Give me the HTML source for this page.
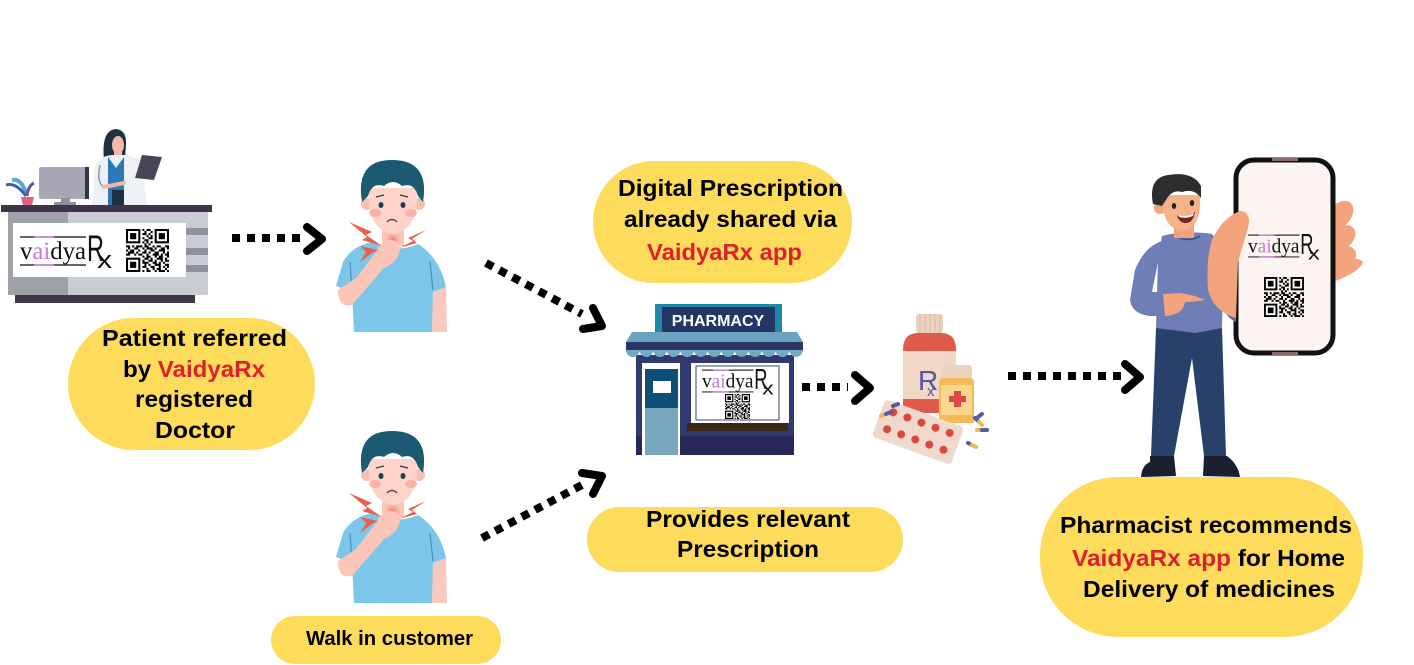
<!DOCTYPE html>
<html><head><meta charset="utf-8"><style>
html,body{margin:0;padding:0;background:#fff;}
svg{display:block;}
.t{font-family:"Liberation Sans",Arial,sans-serif;font-weight:bold;fill:#000;}
.r{fill:#e01f2d;}
</style></head><body>
<svg width="1414" height="665" viewBox="0 0 1414 665" xmlns="http://www.w3.org/2000/svg">
<defs>
<symbol id="qr" viewBox="0 0 21 21">
<rect x="0" y="0" width="7" height="7" fill="#000"/><rect x="1" y="1" width="5" height="5" fill="#fff"/><rect x="2" y="2" width="3" height="3" fill="#000"/>
<rect x="14" y="0" width="7" height="7" fill="#000"/><rect x="15" y="1" width="5" height="5" fill="#fff"/><rect x="16" y="2" width="3" height="3" fill="#000"/>
<rect x="0" y="14" width="7" height="7" fill="#000"/><rect x="1" y="15" width="5" height="5" fill="#fff"/><rect x="2" y="16" width="3" height="3" fill="#000"/>
<path stroke="#000" stroke-width="1" fill="none" d="M8 .5h1M10 .5h2M9 1.5h1M12 1.5h1M8 2.5h2M11 2.5h1M10 3.5h1M12 3.5h1M8 4.5h1M11 4.5h2M9 5.5h2M8 6.5h1M10 6.5h1M12 6.5h1M9 7.5h1M11 7.5h1M0 8.5h2M3 8.5h1M5 8.5h3M9 8.5h2M13 8.5h1M15 8.5h2M19 8.5h2M1 9.5h1M4 9.5h2M8 9.5h1M10 9.5h3M14 9.5h1M17 9.5h2M20 9.5h1M0 10.5h1M2 10.5h2M6 10.5h1M9 10.5h1M12 10.5h2M16 10.5h3M1 11.5h3M5 11.5h1M8 11.5h2M11 11.5h1M14 11.5h2M18 11.5h1M20 11.5h1M0 12.5h2M4 12.5h1M6 12.5h2M10 12.5h1M13 12.5h3M17 12.5h1M19 12.5h2M8 13.5h1M10 13.5h2M14 13.5h1M16 13.5h2M20 13.5h1M9 14.5h2M12 14.5h1M15 14.5h3M19 14.5h1M8 15.5h1M11 15.5h2M14 15.5h1M17 15.5h1M19 15.5h2M8 16.5h3M13 16.5h2M16 16.5h1M18 16.5h1M9 17.5h1M11 17.5h1M14 17.5h3M19 17.5h2M8 18.5h2M12 18.5h2M16 18.5h1M18 18.5h1M20 18.5h1M10 19.5h1M13 19.5h1M15 19.5h2M19 19.5h1M8 20.5h1M10 20.5h2M14 20.5h1M16 20.5h3M20 20.5h1"/>
</symbol>
<radialGradient id="glow"><stop offset="0" stop-color="#f06a6a" stop-opacity=".9"/><stop offset="1" stop-color="#fbc5b8" stop-opacity="0"/></radialGradient>
</defs>

<!-- ===== Bubbles ===== -->
<rect x="68" y="318" width="247" height="132" rx="66" fill="#fddc5c"/>
<rect x="593" y="161" width="259" height="122" rx="61" fill="#fddc5c"/>
<rect x="587" y="507" width="316" height="65" rx="32.5" fill="#fddc5c"/>
<rect x="271" y="616" width="230" height="48" rx="24" fill="#fddc5c"/>
<rect x="1040" y="477" width="323" height="160" rx="78" fill="#fddc5c"/>

<text class="t" font-size="23" x="102" y="346" textLength="185" lengthAdjust="spacingAndGlyphs">Patient referred</text>
<text class="t" font-size="23" x="123" y="377" textLength="142" lengthAdjust="spacingAndGlyphs">by <tspan class="r">VaidyaRx</tspan></text>
<text class="t" font-size="23" x="135" y="407" textLength="118" lengthAdjust="spacingAndGlyphs">registered</text>
<text class="t" font-size="23" x="155" y="438" textLength="80" lengthAdjust="spacingAndGlyphs">Doctor</text>

<text class="t" font-size="23" x="618" y="196" textLength="225" lengthAdjust="spacingAndGlyphs">Digital Prescription</text>
<text class="t" font-size="23" x="624" y="227" textLength="213" lengthAdjust="spacingAndGlyphs">already shared via</text>
<text class="t r" font-size="23" x="647" y="260" textLength="155" lengthAdjust="spacingAndGlyphs">VaidyaRx app</text>

<text class="t" font-size="23" x="646" y="527" textLength="204" lengthAdjust="spacingAndGlyphs">Provides relevant</text>
<text class="t" font-size="23" x="677" y="557" textLength="142" lengthAdjust="spacingAndGlyphs">Prescription</text>

<text class="t" font-size="20" x="306" y="645" textLength="167" lengthAdjust="spacingAndGlyphs">Walk in customer</text>

<text class="t" font-size="23" x="1060" y="533" textLength="292" lengthAdjust="spacingAndGlyphs">Pharmacist recommends</text>
<text class="t" font-size="23" x="1072" y="566" textLength="273" lengthAdjust="spacingAndGlyphs"><tspan class="r">VaidyaRx app</tspan> for Home</text>
<text class="t" font-size="23" x="1083" y="597" textLength="252" lengthAdjust="spacingAndGlyphs">Delivery of medicines</text>

<!-- ===== Arrows ===== -->
<g stroke="#000" fill="none">
<line x1="232" y1="238" x2="303" y2="238" stroke-width="8" stroke-dasharray="8 7"/>
<polyline points="307,227 322,239 307,251" stroke-width="8" stroke-linecap="round" stroke-linejoin="round"/>

<line x1="486" y1="263" x2="582" y2="314" stroke-width="8" stroke-dasharray="8 7"/>
<polyline points="593,308 602,326 583,329" stroke-width="8" stroke-linecap="round" stroke-linejoin="round"/>

<line x1="482" y1="538" x2="582" y2="485" stroke-width="8" stroke-dasharray="8 7"/>
<polyline points="582,473 602,476 593,494" stroke-width="8" stroke-linecap="round" stroke-linejoin="round"/>

<line x1="802" y1="387" x2="848" y2="387" stroke-width="8" stroke-dasharray="8 7"/>
<polyline points="855,375 870,388 855,401" stroke-width="8" stroke-linecap="round" stroke-linejoin="round"/>

<line x1="1008" y1="376" x2="1122" y2="376" stroke-width="8" stroke-dasharray="8 7"/>
<polyline points="1125,364 1140,377 1125,390" stroke-width="8" stroke-linecap="round" stroke-linejoin="round"/>
</g>

<!-- ===== Doctor desk ===== -->
<g>
<path d="M12 180 Q22 178 27 196" stroke="#5aa6d6" stroke-width="4" fill="none"/>
<path d="M6 185 Q16 182 26 196" stroke="#3b5fb0" stroke-width="3" fill="none"/>
<path d="M34 183 Q28 186 27 196" stroke="#6a4fa8" stroke-width="3" fill="none"/>
<path d="M21 197 h13 l-2 8 h-9z" fill="#e0607e"/>
<rect x="39" y="167" width="50" height="32" rx="2" fill="#a8a7b6"/>
<rect x="85" y="167" width="4" height="32" fill="#2f3848"/>
<rect x="61" y="198" width="9" height="6" fill="#8f8e9e"/>
<rect x="54" y="202" width="22" height="3" fill="#8f8e9e"/>
<path d="M104 160 Q101 130 116 129 Q127 130 126 145 L125 158 Z" fill="#1d3140"/>
<ellipse cx="118" cy="145" rx="6" ry="9" fill="#f3b9a6"/>
<rect x="114" y="150" width="8" height="8" fill="#f3b9a6"/>
<path d="M92 205 L95 165 Q100 156 112 155 L126 155 Q138 158 142 170 L147 205 Z" fill="#edf1f6"/>
<path d="M108 157 L116 168 L124 157 L124 205 L108 205 Z" fill="#2e78b5"/>
<path d="M112 190 h12 v15 h-12z" fill="#1e2f40"/>
<path d="M100 165 Q96 185 106 188" stroke="#8c97a3" stroke-width="1.5" fill="none"/>
<path d="M104 187 L124 183" stroke="#f3b9a6" stroke-width="4" stroke-linecap="round"/>
<path d="M128 163 L145 158" stroke="#edf1f6" stroke-width="6" stroke-linecap="round"/>
<path d="M142 155 L162 157 L154 180 L135 178 Z" fill="#4a4556"/>
<rect x="1" y="205" width="211" height="7" fill="#3f3548"/>
<rect x="8" y="212" width="60" height="83" fill="#9ea2a7"/>
<rect x="68" y="212" width="140" height="83" fill="#c9cdd1"/>
<rect x="15" y="295" width="180" height="8" fill="#3f3548"/>
<rect x="186" y="228" width="22" height="7" fill="#8c939a"/>
<rect x="186" y="248" width="22" height="7" fill="#8c939a"/>
<rect x="186" y="265" width="22" height="7" fill="#8c939a"/>
<rect x="13" y="223" width="173" height="54" fill="#fff"/>
<g transform="translate(20,233)">
<line x1="0" y1="4" x2="66" y2="4" stroke="#333" stroke-width="1.5"/>
<line x1="14" y1="4" x2="34" y2="4" stroke="#c98bd8" stroke-width="2"/>
<text x="0" y="26" font-family="Liberation Serif,serif" font-size="25" fill="#111" textLength="66" lengthAdjust="spacingAndGlyphs">v<tspan fill="#c27bd6">ai</tspan>dya</text>
<line x1="0" y1="32" x2="66" y2="32" stroke="#333" stroke-width="1.5"/>
<line x1="14" y1="32" x2="34" y2="32" stroke="#c98bd8" stroke-width="2"/>
<text x="67" y="28" font-family="Liberation Sans,sans-serif" font-size="37" fill="#111" textLength="17" lengthAdjust="spacingAndGlyphs">R</text>
<text x="77" y="35" font-family="Liberation Sans,sans-serif" font-size="24" fill="#111" textLength="15" lengthAdjust="spacingAndGlyphs">x</text>
</g>
<use href="#qr" x="126" y="229" width="43" height="43"/>
</g>

<!-- ===== Patient (twice) ===== -->
<g id="pat">
<path d="M372 242 Q352 246 343 262 L336 286 L352 292 L354 332 L432 332 L433 292 L446 287 Q440 258 418 244 Q395 254 372 242 Z" fill="#7cc6ea"/>
<path d="M433 292 L446 287 L447 332 L432 332 Z" fill="#f9c8be"/>
<path d="M350 262 L352 292" stroke="#4a8fc0" stroke-width="1.2"/>
<path d="M430 262 L433 290" stroke="#4a8fc0" stroke-width="1.2"/>
<rect x="382" y="225" width="22" height="21" fill="#fbc5b8"/>
<circle cx="393" cy="240" r="10" fill="url(#glow)"/>
<circle cx="367" cy="204" r="6" fill="#f7c0b1"/>
<circle cx="419" cy="204" r="6" fill="#f7c0b1"/>
<path d="M369 188 Q366 230 393 234 Q420 230 417 188 Z" fill="#fdd3ca"/>
<path d="M362 202 Q355 160 392 160 Q430 160 423 202 L418 196 Q414 182 402 186 Q393 178 384 186 Q372 182 368 196 Z" fill="#1b5a70"/>
<ellipse cx="375" cy="213" rx="6" ry="4" fill="#f5a3a0" opacity=".7"/>
<ellipse cx="411" cy="213" rx="6" ry="4" fill="#f5a3a0" opacity=".7"/>
<ellipse cx="381" cy="205" rx="2.5" ry="3" fill="#1d3f4f"/>
<ellipse cx="403" cy="205" rx="2.5" ry="3" fill="#1d3f4f"/>
<path d="M376 197 L384 195 M400 195 L408 197" stroke="#1d3f4f" stroke-width="1.2"/>
<path d="M387 222 Q392 217 397 222" stroke="#7a3535" stroke-width="1.5" fill="none"/>
<path d="M338 290 Q338 308 352 305 L384 268 Q398 262 400 250 Q400 240 390 240 Q380 242 376 252 L356 278 Z" fill="#fbc5b8"/>
<polygon points="349,222 372,232 366,235 382,246 362,240 367,237" fill="#e8614e"/>
<polygon points="426,230 408,238 413,241 399,248 417,243 412,239" fill="#e8614e"/>
<polygon points="360,246 378,250 372,253 360,262 366,252" fill="#e8614e"/>
</g>
<use href="#pat" transform="translate(0,271)"/>

<!-- ===== Pharmacy ===== -->
<g>
<rect x="655" y="304" width="127" height="28" fill="#1c8aa8"/>
<rect x="662" y="307" width="113" height="25" fill="#243566"/>
<text x="718" y="326" text-anchor="middle" font-family="Liberation Sans,sans-serif" font-weight="bold" font-size="16" fill="#fff">PHARMACY</text>
<rect x="636" y="355" width="158" height="100" fill="#2f3b70"/>
<rect x="636" y="436" width="158" height="19" fill="#28275a"/>
<path d="M626 342 L632 332 L797 332 L803 342 Z" fill="#6aa3be"/>
<rect x="626" y="342" width="177" height="9" fill="#2a3566"/>
<path d="M626 350 a6.8 7 0 0 0 13.6 0 a6.8 7 0 0 0 13.6 0 a6.8 7 0 0 0 13.6 0 a6.8 7 0 0 0 13.6 0 a6.8 7 0 0 0 13.6 0 a6.8 7 0 0 0 13.6 0 a6.8 7 0 0 0 13.6 0 a6.8 7 0 0 0 13.6 0 a6.8 7 0 0 0 13.6 0 a6.8 7 0 0 0 13.6 0 a6.8 7 0 0 0 13.6 0 a6.8 7 0 0 0 13.6 0 a6.8 7 0 0 0 13.6 0 Z" fill="#72a9c4"/>
<rect x="642" y="363" width="38" height="92" fill="#fff"/>
<rect x="645" y="369" width="33" height="39" fill="#0e4f7a"/>
<rect x="645" y="408" width="33" height="47" fill="#78a8c0"/>
<rect x="653" y="381" width="18" height="12" fill="#fff"/>
<rect x="691" y="363" width="98" height="60" fill="#fff"/>
<rect x="696" y="366" width="83" height="54" fill="#fff" stroke="#2f4a7a" stroke-width="1"/>
<g transform="translate(702,367) scale(0.78)">
<line x1="0" y1="4" x2="66" y2="4" stroke="#333" stroke-width="1.5"/>
<line x1="14" y1="4" x2="34" y2="4" stroke="#c98bd8" stroke-width="2"/>
<text x="0" y="26" font-family="Liberation Serif,serif" font-size="25" fill="#111" textLength="66" lengthAdjust="spacingAndGlyphs">v<tspan fill="#c27bd6">ai</tspan>dya</text>
<line x1="0" y1="32" x2="66" y2="32" stroke="#333" stroke-width="1.5"/>
<line x1="14" y1="32" x2="34" y2="32" stroke="#c98bd8" stroke-width="2"/>
<text x="67" y="28" font-family="Liberation Sans,sans-serif" font-size="37" fill="#111" textLength="17" lengthAdjust="spacingAndGlyphs">R</text>
<text x="77" y="35" font-family="Liberation Sans,sans-serif" font-size="24" fill="#111" textLength="15" lengthAdjust="spacingAndGlyphs">x</text>
</g>
<use href="#qr" x="725" y="394" width="25" height="25"/>
<rect x="687" y="423" width="101" height="8" fill="#3c2618"/>
</g>

<!-- ===== Medicines ===== -->
<g>
<rect x="916" y="314" width="27" height="19" rx="3" fill="#ecd2c0"/>
<path d="M920 314 v19 M925 314 v19 M930 314 v19 M935 314 v19 M940 314 v19" stroke="#d6b9a6" stroke-width="1"/>
<path d="M903 350 Q903 333 918 333 L941 333 Q956 333 956 350 L956 413 L903 413 Z" fill="#e05a4a"/>
<rect x="903" y="351" width="53" height="48" fill="#f1d7c6"/>
<text x="918" y="390" font-family="Liberation Sans,sans-serif" font-size="28" fill="#4f55a8">R</text>
<text x="927" y="396" font-family="Liberation Sans,sans-serif" font-size="15" fill="#4f55a8">x</text>
<rect x="942" y="365" width="30" height="14" rx="3" fill="#ecd2c0"/>
<path d="M939 383 Q939 378 944 378 L970 378 Q974 378 974 383 L974 423 L939 423 Z" fill="#f5b85a"/>
<rect x="941" y="385" width="31" height="30" fill="#fbd78c"/>
<path d="M954 391 h7 v5 h5 v6 h-5 v5 h-7 v-5 h-5 v-6 h5z" fill="#e04848"/>
<g transform="rotate(20 918 432)">
<rect x="876" y="412" width="84" height="40" rx="4" fill="#efd8cc"/>
<g fill="#d94a3e">
<circle cx="888" cy="422" r="4"/><circle cx="903" cy="422" r="4"/><circle cx="918" cy="422" r="4"/><circle cx="933" cy="422" r="4"/><circle cx="948" cy="422" r="4"/>
<circle cx="888" cy="440" r="4"/><circle cx="903" cy="440" r="4"/><circle cx="918" cy="440" r="4"/><circle cx="933" cy="440" r="4"/><circle cx="948" cy="440" r="4"/>
</g></g>
<g stroke-width="4" stroke-linecap="round">
<path d="M881 416 l5 -2" stroke="#f2b64a"/><path d="M886 414 l5 -2" stroke="#5a5aa8"/>
<path d="M893 406 l5 -2" stroke="#5a5aa8"/>
<path d="M975 418 l4 4" stroke="#5a5aa8"/><path d="M979 422 l3 3" stroke="#f2b64a"/>
<path d="M977 430 l5 0" stroke="#f2b64a"/><path d="M982 430 l5 0" stroke="#5a5aa8"/>
<path d="M968 443 l4 2" stroke="#5a5aa8"/><path d="M972 445 l4 2" stroke="#f2b64a"/>
<path d="M978 417 l4 -3" stroke="#5a5aa8"/>
</g>
</g>

<!-- ===== Man with phone ===== -->
<g>
<path d="M1156 328 L1222 328 L1226 456 L1204 456 L1192 358 L1174 456 L1151 456 Z" fill="#27416b"/>
<path d="M1150 456 L1174 456 L1176 476 L1141 477 Q1142 465 1150 462 Z" fill="#1b2030"/>
<path d="M1204 456 L1227 456 Q1238 464 1240 477 L1203 476 Z" fill="#1b2030"/>
<path d="M1162 236 Q1185 230 1212 234 L1224 250 L1222 328 L1195 333 L1156 328 L1158 260 Z" fill="#6f7eb6"/>
<path d="M1176 236 Q1188 243 1200 236" stroke="#3d4a80" stroke-width="1.5" fill="none"/>
<path d="M1165 240 Q1145 245 1135 270 L1130 300 Q1132 314 1150 316 L1165 316 L1165 292 L1152 292 L1158 262 Z" fill="#6f7eb6"/>
<path d="M1163 294 L1180 293 Q1195 295 1205 300 Q1192 302 1185 302 Q1183 315 1165 316 Z" fill="#f4a47c"/>
<rect x="1174" y="222" width="20" height="16" fill="#f2a47c"/>
<circle cx="1160" cy="208" r="6" fill="#f2a47c"/>
<path d="M1162 195 Q1162 232 1185 230 Q1202 226 1200 195 Z" fill="#f6b38a"/>
<path d="M1153 204 Q1148 178 1168 175 Q1193 171 1201 186 L1201 198 Q1194 188 1182 192 Q1172 189 1166 200 L1162 206 Z" fill="#2d2d2d"/>
<ellipse cx="1174" cy="206" rx="2.2" ry="3" fill="#222"/>
<ellipse cx="1192" cy="203" rx="2.2" ry="3" fill="#222"/>
<path d="M1177 215 Q1186 219 1195 212 Q1193 224 1184 223 Q1178 221 1177 215 Z" fill="#7a2020"/>
<path d="M1178 215 Q1186 218 1194 213 L1193 216 Q1186 219 1179 217 Z" fill="#fff"/>
<g fill="#f4a47c">
<ellipse cx="1340" cy="215" rx="11" ry="16" transform="rotate(40 1340 215)"/>
<ellipse cx="1341" cy="238" rx="11" ry="16" transform="rotate(55 1341 238)"/>
<ellipse cx="1342" cy="258" rx="11" ry="15" transform="rotate(60 1342 258)"/>
<path d="M1330 262 Q1358 255 1363 262 Q1360 272 1333 282 Z"/>
</g>
<rect x="1236" y="160" width="97" height="193" rx="18" fill="#fbf4f1" stroke="#111" stroke-width="5"/>
<rect x="1272" y="158" width="26" height="3" fill="#8a6a6a"/>
<rect x="1272" y="352" width="26" height="3" fill="#8a6a6a"/>
<g transform="translate(1248,232) scale(0.78)">
<line x1="0" y1="4" x2="66" y2="4" stroke="#333" stroke-width="1.5"/>
<line x1="14" y1="4" x2="34" y2="4" stroke="#c98bd8" stroke-width="2"/>
<text x="0" y="26" font-family="Liberation Serif,serif" font-size="25" fill="#111" textLength="66" lengthAdjust="spacingAndGlyphs">v<tspan fill="#c27bd6">ai</tspan>dya</text>
<line x1="0" y1="32" x2="66" y2="32" stroke="#333" stroke-width="1.5"/>
<line x1="14" y1="32" x2="34" y2="32" stroke="#c98bd8" stroke-width="2"/>
<text x="67" y="28" font-family="Liberation Sans,sans-serif" font-size="37" fill="#111" textLength="17" lengthAdjust="spacingAndGlyphs">R</text>
<text x="77" y="35" font-family="Liberation Sans,sans-serif" font-size="24" fill="#111" textLength="15" lengthAdjust="spacingAndGlyphs">x</text>
</g>
<use href="#qr" x="1264" y="277" width="40" height="40"/>
<path d="M1218 300 Q1226 318 1236 322 L1236 300 Z" fill="#5e6b9c"/>
<path d="M1240 211 Q1252 212 1248 228 L1238 262 L1236 318 Q1214 312 1208 290 Q1206 258 1212 240 Q1222 218 1240 211 Z" fill="#f4a47c"/>
</g>
</svg>
</body></html>
